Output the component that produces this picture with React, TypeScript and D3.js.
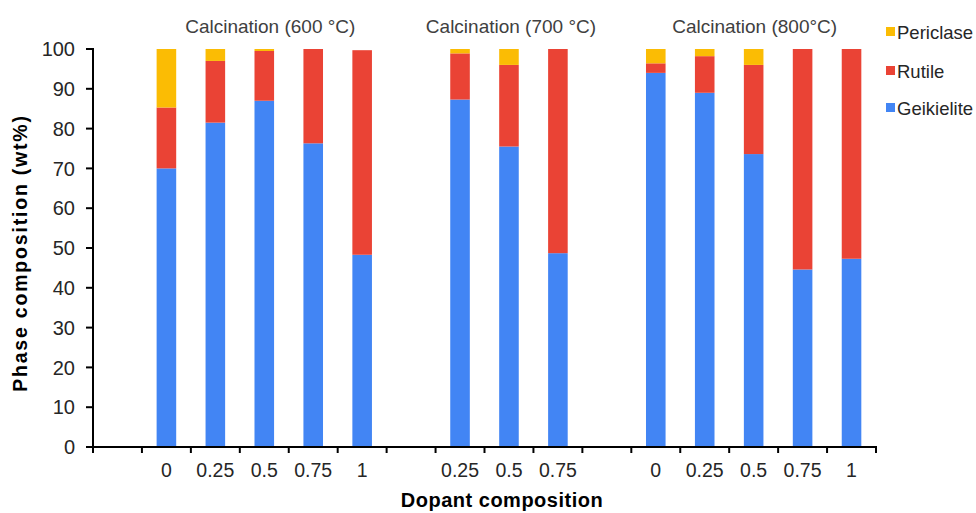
import React from "react";
import * as d3 from "d3";

const slots = ["gap-a", "600-0", "600-0.25", "600-0.5", "600-0.75", "600-1", "gap-b", "700-0.25", "700-0.5", "700-0.75", "gap-c", "800-0", "800-0.25", "800-0.5", "800-0.75", "800-1"];
const slotLabels = ["", "0", "0.25", "0.5", "0.75", "1", "", "0.25", "0.5", "0.75", "", "0", "0.25", "0.5", "0.75", "1"];
const barSlots = ["600-0", "600-0.25", "600-0.5", "600-0.75", "600-1", "700-0.25", "700-0.5", "700-0.75", "800-0", "800-0.25", "800-0.5", "800-0.75", "800-1"];
const geikielite = [70, 81.5, 87, 76.3, 48.3, 87.3, 75.5, 48.7, 94, 89, 73.6, 44.6, 47.3];
const rutile = [15.3, 15.5, 12.5, 23.7, 51.4, 11.6, 20.5, 51.3, 2.4, 9.2, 22.4, 55.4, 52.7];
const periclase = [14.7, 3, 0.5, 0, 0, 1.1, 4, 0, 3.6, 1.8, 4, 0, 0];
const seriesNames = ["Geikielite", "Rutile", "Periclase"];
const seriesColors = ["#4285F4", "#EA4335", "#FBBC04"];
const groupTitles = ["Calcination (600 °C)", "Calcination (700 °C)", "Calcination (800°C)"];
const groupSpans = [["600-0", "600-1"], ["700-0.25", "700-0.75"], ["800-0", "800-1"]];
const groupTitleShift = [6, 2, 1];
const yTicks = [0, 10, 20, 30, 40, 50, 60, 70, 80, 90, 100];

const W = 976, H = 513;
const left = 93, right = 876, top = 49, bottom = 447;
const font = "Liberation Sans, Arial, sans-serif";

export default function App() {
  const x = d3.scaleBand<string>().domain(slots).range([left, right]).paddingInner(0).paddingOuter(0);
  const y = d3.scaleLinear().domain([0, 100]).range([bottom, top]);
  const barW = x.bandwidth() * 0.4;
  const rows = barSlots.map((s, i) => ({ s, Geikielite: geikielite[i], Rutile: rutile[i], Periclase: periclase[i] }));
  const stack = d3.stack<any>().keys(seriesNames)(rows);
  const legendOrder = [2, 1, 0];
  const legendY = [32, 71, 108];

  return (
    <svg width={W} height={H} style={{ position: "absolute", left: 0, top: 0 }} fontFamily={font}>
      <rect x={0} y={0} width={W} height={H} fill="#fff" />
      {stack.map((layer, li) => (
        <g key={li} fill={seriesColors[li]}>
          {layer.map((d, i) => d[1] - d[0] > 0 ? (
            <rect key={i} x={x(rows[i].s)! + (x.bandwidth() - barW) / 2} width={barW} y={y(d[1])} height={y(d[0]) - y(d[1])} />
          ) : null)}
        </g>
      ))}
      {/* y axis */}
      <line x1={left} x2={left} y1={top - 1} y2={bottom} stroke="#000" strokeWidth={2} />
      {yTicks.map(t => (
        <g key={t}>
          <line x1={left - 7} x2={left} y1={y(t)} y2={y(t)} stroke="#000" strokeWidth={2} />
          <text x={75} y={y(t)} dy="0.36em" textAnchor="end" fontSize={20} fill="#262626">{t}</text>
        </g>
      ))}
      {/* x axis */}
      <line x1={left - 1} x2={right + 1} y1={bottom} y2={bottom} stroke="#000" strokeWidth={2} />
      {slots.map((s) => (
        <line key={s} x1={x(s)!} x2={x(s)!} y1={bottom} y2={bottom + 6} stroke="#000" strokeWidth={2} />
      ))}
      <line x1={right} x2={right} y1={bottom} y2={bottom + 6} stroke="#000" strokeWidth={2} />
      {slots.map((s, i) => (
        <text key={s} x={x(s)! + x.bandwidth() / 2} y={477} textAnchor="middle" fontSize={19.5} fill="#262626">{slotLabels[i]}</text>
      ))}
      {groupTitles.map((t, i) => {
        const cx = (x(groupSpans[i][0])! + x(groupSpans[i][1])! + x.bandwidth()) / 2 + groupTitleShift[i];
        return <text key={t} x={cx} y={33} textAnchor="middle" fontSize={19} fill="#404040">{t}</text>;
      })}
      {legendOrder.map((si, k) => (
        <g key={si}>
          <rect x={886} y={legendY[k] - 5} width={9} height={9} fill={seriesColors[si]} />
          <text x={897} y={legendY[k]} dy="0.36em" fontSize={18.5} fill="#262626">{seriesNames[si]}</text>
        </g>
      ))}
      <text transform={`translate(27,253) rotate(-90)`} textAnchor="middle" fontSize={19.5} fontWeight="bold" letterSpacing={1.8} fill="#000">Phase composition (wt%)</text>
      <text x={502} y={507} textAnchor="middle" fontSize={20} fontWeight="bold" letterSpacing={0.5} fill="#000">Dopant composition</text>
    </svg>
  );
}
